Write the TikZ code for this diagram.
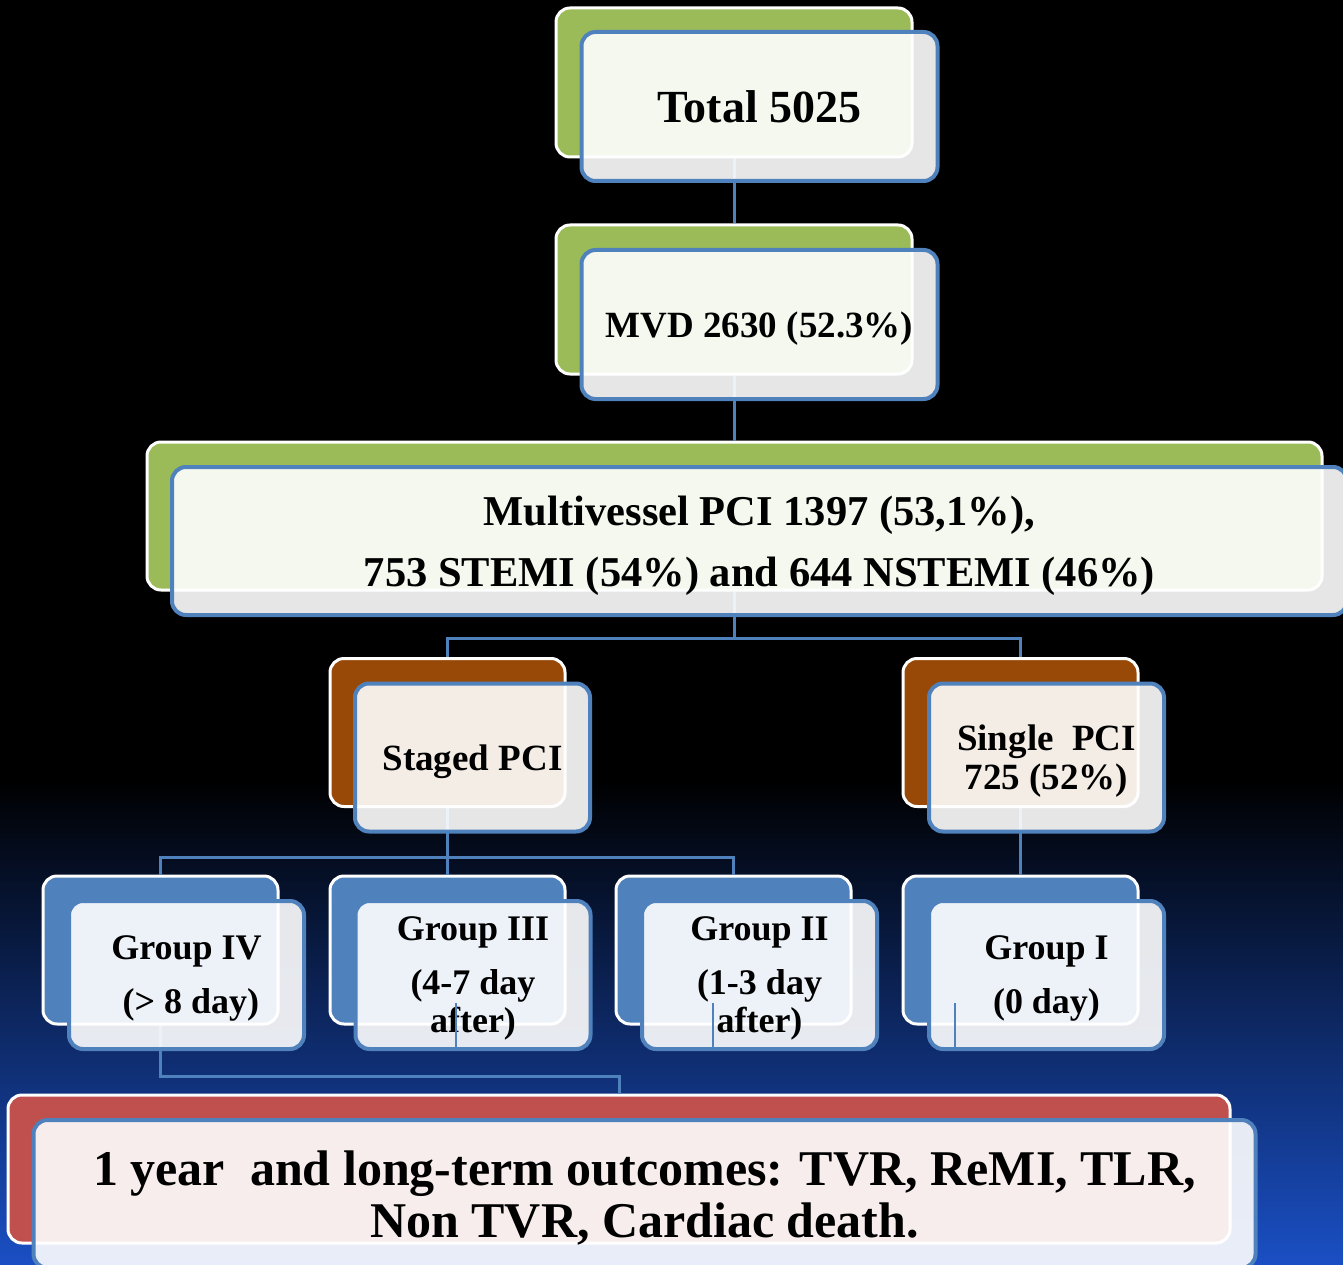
\documentclass[tikz,border=0pt]{standalone}
\usepackage{fontspec}
\setmainfont{Liberation Serif}
\definecolor{grnback}{HTML}{9BBB59}
\definecolor{brnback}{HTML}{984807}
\definecolor{bluback}{HTML}{4F81BD}
\definecolor{redback}{HTML}{C0504D}
\definecolor{linkblue}{HTML}{4F81BD}
\definecolor{bgblue}{HTML}{1A4FC4}
\tikzset{
  back/.style={draw=white, line width=3pt, rounded corners=14pt, inner sep=0pt},
  front/.style={draw=linkblue, line width=4pt, rounded corners=14pt, fill=white,
    fill opacity=.9, text opacity=1, inner sep=0pt, align=center, text depth=0pt},
  topsize/.style={minimum width=356pt, minimum height=149pt},
  widesize/.style={minimum width=1175pt, minimum height=148pt},
  smallsize/.style={minimum width=235pt, minimum height=148pt},
  link/.style={draw=linkblue, line width=3pt},
  stub/.style={draw=linkblue, line width=2pt}
}
\begin{document}
\begin{tikzpicture}[x=1pt,y=-1pt]
  \clip (0,0) rectangle (1343,1265);
  \fill[black] (0,0) rectangle (1343,1265);
  \shade[top color=black, bottom color=bgblue] (0,780) rectangle (1343,1265);

  % back boxes
  \node[back, topsize, fill=grnback] (totb) at (734,82.5) {};
  \node[back, topsize, fill=grnback] (mvdb) at (734,299.5) {};
  \node[back, widesize, fill=grnback] (multb) at (734.5,516) {};
  \node[back, smallsize, fill=brnback] (stgb) at (447.5,732.5) {};
  \node[back, smallsize, fill=brnback] (sglb) at (1020.5,732.5) {};
  \node[back, smallsize, fill=bluback] (g4b) at (160.5,950) {};
  \node[back, smallsize, fill=bluback] (g3b) at (447.5,950) {};
  \node[back, smallsize, fill=bluback] (g2b) at (733.5,950) {};
  \node[back, smallsize, fill=bluback] (g1b) at (1020.5,950) {};
  \node[back, minimum width=1222pt, minimum height=148pt, fill=redback] (outb) at (619,1169) {};

  % connectors
  \draw[link] (totb.south) -- (mvdb.north);
  \draw[link] (mvdb.south) -- (mvdb.south |- multb.north);
  \draw[link] (mvdb.south |- multb.south) -- ++(0,47) -| (stgb.north);
  \draw[link] (mvdb.south |- multb.south) -- ++(0,47) -| (sglb.north);
  \draw[link] (stgb.south) -- ++(0,49) -| (g4b.north);
  \draw[link] (stgb.south) -- ++(0,49) -| (g3b.north);
  \draw[link] (stgb.south) -- ++(0,49) -| (g2b.north);
  \draw[link] (sglb.south) -- (g1b.north);
  \draw[link] (g4b.south) -- ++(0,51) -| (outb.north);

  % front boxes
  \node[front, topsize, font=\fontsize{46}{50}\selectfont\bfseries] (tot) at ([shift={(25.5,24)}]totb) {Total 5025};
  \node[front, topsize, font=\fontsize{37}{40}\selectfont\bfseries] (mvd) at ([shift={(25.5,25)}]mvdb) {MVD 2630 (52.3\%)};
  \node[front, widesize, font=\fontsize{42.5}{61}\selectfont\bfseries] (mult) at ([shift={(25,25)}]multb)
    {Multivessel PCI 1397 (53,1\%),\\753 STEMI (54\%) and 644 NSTEMI (46\%)};
  \node[front, smallsize, font=\fontsize{37}{40}\selectfont\bfseries] (stg) at ([shift={(25,25)}]stgb) {Staged PCI};
  \node[front, smallsize, font=\fontsize{37}{39}\selectfont\bfseries] (sgl) at ([shift={(26,25)}]sglb) {Single\ \ PCI\\725 (52\%)};
  \node[front, smallsize, font=\fontsize{36}{38}\selectfont\bfseries] (g4) at ([shift={(26,25)}]g4b) {Group IV\\[16pt]\ (> 8 day)};
  \node[front, smallsize, font=\fontsize{36}{38}\selectfont\bfseries] (g3) at ([shift={(25.5,25)}]g3b) {Group III\\[16pt](4-7 day\\after)};
  \node[front, smallsize, font=\fontsize{36}{38}\selectfont\bfseries] (g2) at ([shift={(26,25)}]g2b) {Group II\\[16pt](1-3 day\\after)};
  \node[front, smallsize, font=\fontsize{36}{38}\selectfont\bfseries] (g1) at ([shift={(26,25)}]g1b) {Group I\\[16pt](0 day)};
  \node[front, minimum width=1222pt, minimum height=148pt, font=\fontsize{50}{52}\selectfont\bfseries] (out) at ([shift={(25.5,25)}]outb)
    {1 year\ \ and long-term outcomes: TVR, ReMI, TLR,\\Non TVR, Cardiac death.};

  % short stubs over the group boxes
  \coordinate (s3) at (456,1003);
  \coordinate (s2) at (713,1003);
  \coordinate (s1) at (955,1003);
  \draw[stub] (s3) -- (s3 |- g3.south);
  \draw[stub] (s2) -- (s2 |- g2.south);
  \draw[stub] (s1) -- (s1 |- g1.south);
\end{tikzpicture}
\end{document}
